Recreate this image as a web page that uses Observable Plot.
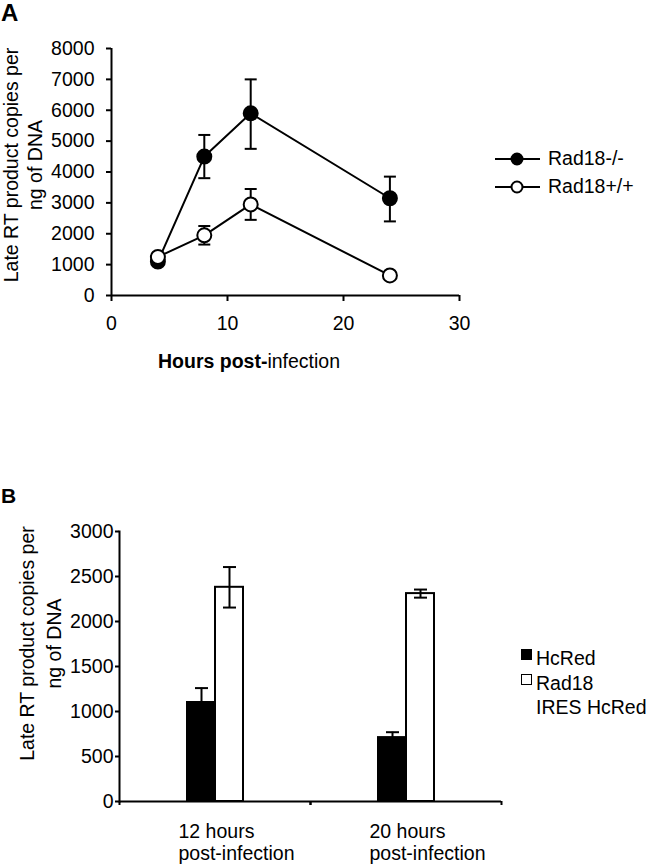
<!DOCTYPE html>
<html><head><meta charset="utf-8">
<script src="https://cdn.jsdelivr.net/npm/d3@7"></script>
<script src="https://cdn.jsdelivr.net/npm/@observablehq/plot@0.6"></script>
<style>
body{margin:0;background:#fff;}
#root{position:relative;width:646px;height:864px;font-family:"Liberation Sans",Arial,sans-serif;color:#000;overflow:hidden;background:#fff}
.abs{position:absolute;white-space:nowrap;line-height:1}
.plot{position:absolute;left:0}
</style></head><body><div id="root"></div>
<script>
// ---------- Panel A data ----------
const hoursA = [4, 8, 12, 24];
const seriesA = ["Rad18-/-", "Rad18+/+"];
const koValues = [1100, 4500, 5900, 3150];
const koHi = [null, 5200, 7000, 3850];
const koLo = [null, 3800, 4750, 2400];
const wtValues = [1250, 1950, 2950, 650];
const wtHi = [null, 2250, 3450, null];
const wtLo = [null, 1650, 2450, null];
const xTicksA = [0, 10, 20, 30];
const yTicksA = [0, 1000, 2000, 3000, 4000, 5000, 6000, 7000, 8000];
const yLabel = "Late RT product copies per\nng of DNA";

// ---------- Panel B data ----------
const groupsB = ["12 hours\npost-infection", "20 hours\npost-infection"];
const seriesB = ["HcRed", "Rad18 IRES HcRed"];
const hcRedValues = [1100, 710];
const hcRedErr = [160, 60];
const rad18Values = [2380, 2310];
const rad18Err = [225, 45];
const yTicksB = [0, 500, 1000, 1500, 2000, 2500, 3000];

const FONT = '"Liberation Sans", Arial, sans-serif';
const FS = 19.5;

const dataA = [];
hoursA.forEach((h, i) => {
  dataA.push({series: seriesA[0], hours: h, value: koValues[i], hi: koHi[i], lo: koLo[i]});
});
hoursA.forEach((h, i) => {
  dataA.push({series: seriesA[1], hours: h, value: wtValues[i], hi: wtHi[i], lo: wtLo[i]});
});
const errA = dataA.filter(d => d.hi != null);
const koData = dataA.filter(d => d.series === seriesA[0]);
const wtData = dataA.filter(d => d.series === seriesA[1]);

const dataB = [];
groupsB.forEach((g, i) => {
  dataB.push({group: g, series: seriesB[0], value: hcRedValues[i], lo: hcRedValues[i] - hcRedErr[i], hi: hcRedValues[i] + hcRedErr[i]});
  dataB.push({group: g, series: seriesB[1], value: rad18Values[i], lo: rad18Values[i] - rad18Err[i], hi: rad18Values[i] + rad18Err[i]});
});

const capSymbol = {draw(ctx, size) { const r = Math.sqrt(size / Math.PI); ctx.moveTo(-r, 0); ctx.lineTo(r, 0); }};

const root = document.getElementById("root");

// ---------- Panel A ----------
const plotA = Plot.plot({
  width: 646, height: 400,
  marginLeft: 111, marginRight: 187, marginTop: 48, marginBottom: 105,
  style: {fontFamily: FONT, fontSize: FS + "px", color: "black", background: "transparent", overflow: "visible"},
  x: {domain: [0, 30]},
  y: {domain: [0, 8000]},
  marks: [
    Plot.ruleY([0], {strokeWidth: 2}),
    Plot.ruleX([0], {strokeWidth: 2}),
    Plot.axisX({ticks: xTicksA, tickSize: 6, tickPadding: 15, tickFormat: "d", label: null, fontSize: FS, strokeWidth: 2}),
    Plot.axisY({ticks: yTicksA, tickSize: 5, tickPadding: 12, tickFormat: "d", label: null, fontSize: FS, strokeWidth: 2}),
    Plot.ruleX(errA, {x: "hours", y1: "lo", y2: "hi", strokeWidth: 2}),
    Plot.dot(errA, {x: "hours", y: "hi", symbol: capSymbol, r: 6, stroke: "black", fill: "none", strokeWidth: 2}),
    Plot.dot(errA, {x: "hours", y: "lo", symbol: capSymbol, r: 6, stroke: "black", fill: "none", strokeWidth: 2}),
    Plot.line(koData, {x: "hours", y: "value", strokeWidth: 2}),
    Plot.line(wtData, {x: "hours", y: "value", strokeWidth: 2}),
    Plot.dot(koData, {x: "hours", y: "value", r: 7, fill: "black", stroke: "black", strokeWidth: 2}),
    Plot.dot(wtData, {x: "hours", y: "value", r: 7, fill: "white", stroke: "black", strokeWidth: 2}),
    Plot.text([yLabel], {frameAnchor: "left", textAnchor: "middle", rotate: -90, dx: -89, dy: -7, fontSize: FS, lineHeight: 1.23})
  ]
});
plotA.classList.add("plot");
plotA.style.top = "0px";
root.appendChild(plotA);

// ---------- Panel B ----------
const facetW = (646 - 119 - 145) / 2;
const plotB = Plot.plot({
  width: 646, height: 434,
  marginLeft: 119, marginRight: 145, marginTop: 101, marginBottom: 63,
  style: {fontFamily: FONT, fontSize: FS + "px", color: "black", background: "transparent", overflow: "visible"},
  fx: {domain: groupsB, padding: 0, axis: null},
  x: {domain: seriesB, paddingInner: 0, paddingOuter: 2.41, axis: null},
  y: {domain: [0, 3000], axis: null},
  color: {domain: seriesB, range: ["black", "white"]},
  marks: [
    Plot.barY(dataB, {fx: "group", x: "series", y: "value", fill: "series", stroke: "black", strokeWidth: 2}),
    Plot.ruleX(dataB, {fx: "group", x: "series", y1: "lo", y2: "hi", strokeWidth: 2}),
    Plot.dot(dataB, {fx: "group", x: "series", y: "hi", symbol: capSymbol, r: 6.5, stroke: "black", fill: "none", strokeWidth: 2}),
    Plot.dot(dataB, {fx: "group", x: "series", y: "lo", symbol: capSymbol, r: 6.5, stroke: "black", fill: "none", strokeWidth: 2}),
    Plot.ruleY([0], {strokeWidth: 2}),
    Plot.frame({anchor: "left", facetAnchor: "left", strokeWidth: 2}),
    Plot.axisY({ticks: yTicksB, tickSize: 4, tickPadding: 2, tickFormat: "d", label: null, fontSize: FS, strokeWidth: 2}),
    Plot.axisFx({anchor: "bottom", tickSize: 4, tickFormat: () => "", dx: facetW / 2, label: null, strokeWidth: 2}),
    Plot.axisFx({anchor: "bottom", tickSize: 4, tickFormat: () => "", dx: -facetW / 2, label: null, strokeWidth: 2}),
    Plot.text(groupsB, {fx: d => d, text: d => d, frameAnchor: "bottom", textAnchor: "start", lineAnchor: "top", dx: -36.5, dy: 21, fontSize: FS, lineHeight: 1.13}),
    Plot.text([yLabel], {fx: () => groupsB[0], frameAnchor: "left", textAnchor: "middle", rotate: -90, dx: -81, dy: -23, fontSize: FS, lineHeight: 1.42})
  ]
});
plotB.classList.add("plot");
plotB.style.top = "430px";
root.appendChild(plotB);

// ---------- Panel letters, x label, legends ----------
function addDiv(html, left, top, style) {
  const d = document.createElement("div");
  d.className = "abs";
  d.innerHTML = html;
  d.style.left = left + "px";
  d.style.top = top + "px";
  if (style) Object.assign(d.style, style);
  root.appendChild(d);
  return d;
}
addDiv("A", 1, 1, {fontSize: "24px", fontWeight: "bold"});
addDiv("B", 1, 485, {fontSize: "21px", fontWeight: "bold"});
addDiv("<b>Hours post-</b>infection", 158, 352, {fontSize: FS + "px"});

// legend A
seriesA.forEach((s, i) => {
  const cy = 159 + i * 28;
  const svgNS = "http://www.w3.org/2000/svg";
  const svg = document.createElementNS(svgNS, "svg");
  svg.setAttribute("width", 50); svg.setAttribute("height", 20);
  svg.style.position = "absolute"; svg.style.left = "493px"; svg.style.top = (cy - 10) + "px";
  const ln = document.createElementNS(svgNS, "line");
  ln.setAttribute("x1", 2); ln.setAttribute("x2", 47); ln.setAttribute("y1", 10); ln.setAttribute("y2", 10);
  ln.setAttribute("stroke", "black"); ln.setAttribute("stroke-width", 2);
  const c = document.createElementNS(svgNS, "circle");
  c.setAttribute("cx", 24); c.setAttribute("cy", 10); c.setAttribute("r", 5.5);
  c.setAttribute("fill", i === 0 ? "black" : "white"); c.setAttribute("stroke", "black"); c.setAttribute("stroke-width", 2);
  svg.appendChild(ln); svg.appendChild(c);
  root.appendChild(svg);
  addDiv(s, 548, cy - 10, {fontSize: FS + "px"});
});

// legend B
const legB = [["HcRed"], ["Rad18", "IRES HcRed"]];
seriesB.forEach((s, i) => {
  const top = 649 + i * 25;
  addDiv("", 521, top, {width: "9px", height: "9px", background: i === 0 ? "black" : "white", border: "1.5px solid black"});
  addDiv(legB[i].join("<br>"), 536, top - 3, {fontSize: FS + "px", lineHeight: "24px"});
});
</script></body></html>
